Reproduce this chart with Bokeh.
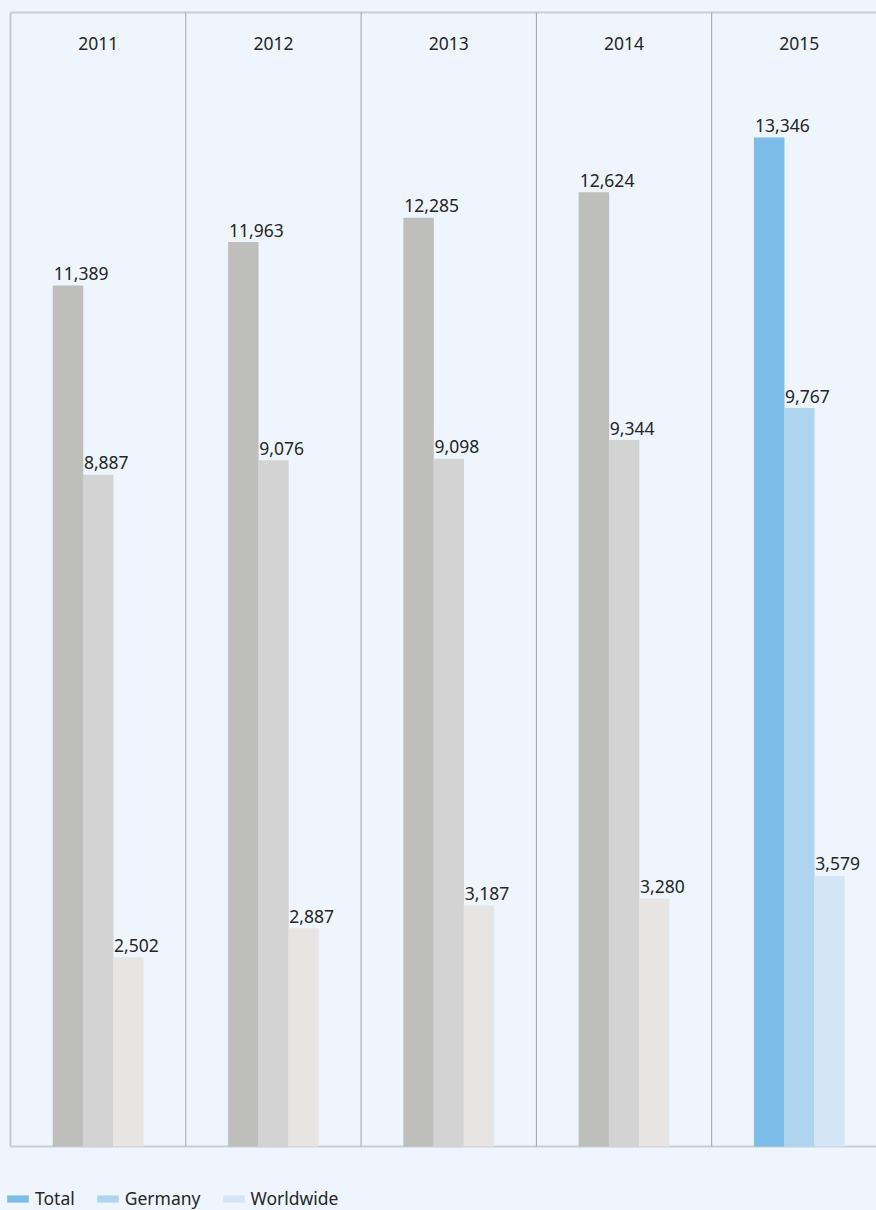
from bokeh.plotting import figure
from bokeh.models import ColumnDataSource, Range1d, Legend, LegendItem
from bokeh.transform import dodge
from bokeh.core.properties import value
from bokeh.embed import file_html
from bokeh.resources import INLINE

years = ["2011", "2012", "2013", "2014", "2015"]
total = [11389, 11963, 12285, 12624, 13346]
germany = [8887, 9076, 9098, 9344, 9767]
worldwide = [2502, 2887, 3187, 3280, 3579]
series_names = ["Total", "Germany", "Worldwide"]
past_colors = ["#bebebc", "#d3d3d3", "#e6e5e3"]
current_colors = ["#7bbde8", "#aed4f0", "#d4e5f6"]

BG = "#eef5fd"
FONT = "Noto Sans"
TXT = "#262626"
Y_MAX = 15000
BAR_W = 0.174
STEP = 0.172

# layout (pixels) of the chart area inside the canvas
W, H = 876, 1210
LEFT, TOP, BOTTOM = 10, 12, 64
COL_PX = 175.3
PX_PER_UNIT = (H - TOP - BOTTOM) / Y_MAX

xs = [i + 0.5 for i in range(len(years))]

x_range = Range1d(-LEFT / COL_PX, (W - LEFT) / COL_PX)
y_range = Range1d(-BOTTOM / PX_PER_UNIT, Y_MAX + TOP / PX_PER_UNIT)

p = figure(width=W, height=H, x_range=x_range, y_range=y_range,
           output_backend="svg", toolbar_location=None,
           x_axis_location=None, y_axis_location=None,
           min_border=0,
           background_fill_color=BG, border_fill_color=BG, outline_line_color=None)
p.grid.visible = False

# chart box borders and column separators
n = len(years)
p.segment(x0=[0], y0=[0], x1=[0], y1=[Y_MAX], line_color="#c3cad2", line_width=2)
p.segment(x0=[0, 0], y0=[0, Y_MAX], x1=[x_range.end] * 2, y1=[0, Y_MAX],
          line_color="#c8ced6", line_width=2)
p.segment(x0=list(range(1, n)), y0=[0] * (n - 1), x1=list(range(1, n)),
          y1=[Y_MAX] * (n - 1), line_color="#9ba4ae", line_width=1)

items = []
for k, (name, vals) in enumerate(zip(series_names, [total, germany, worldwide])):
    colors = [past_colors[k]] * (n - 1) + [current_colors[k]]
    src = ColumnDataSource(dict(x=xs, val=vals, color=colors,
                                label=[f"{v:,}" for v in vals]))
    off = (k - 1) * STEP
    r = p.vbar(x=dodge("x", off, range=p.x_range), top="val", width=BAR_W,
               source=src, fill_color="color", line_color=None)
    p.text(x=dodge("x", off - BAR_W / 2, range=p.x_range), y="val", text="label",
           source=src, text_font=value(FONT), text_font_size="17.5px", text_color=TXT,
           text_baseline="alphabetic", text_align="left", x_offset=1, y_offset=-12)
    items.append(LegendItem(label=name, renderers=[r], index=n - 1))

ysrc = ColumnDataSource(dict(x=xs, y=[Y_MAX] * n, text=years))
p.text(x="x", y="y", text="text", source=ysrc, text_font=value(FONT),
       text_font_size="17.5px", text_color=TXT, text_align="center",
       text_baseline="alphabetic", y_offset=31)

legend = Legend(items=items, orientation="horizontal", location=(4, 0),
                padding=0, margin=0, spacing=19, label_standoff=4,
                glyph_width=27, glyph_height=9, label_height=16,
                border_line_color=None, background_fill_alpha=0,
                label_text_font=FONT, label_text_font_size="17.5px",
                label_text_color=TXT)
p.add_layout(legend)

html = file_html(p, INLINE)
html = html.replace("</head>", "<style>html, body { background: %s; }</style></head>" % BG, 1)
open("out.html", "w").write(html)
